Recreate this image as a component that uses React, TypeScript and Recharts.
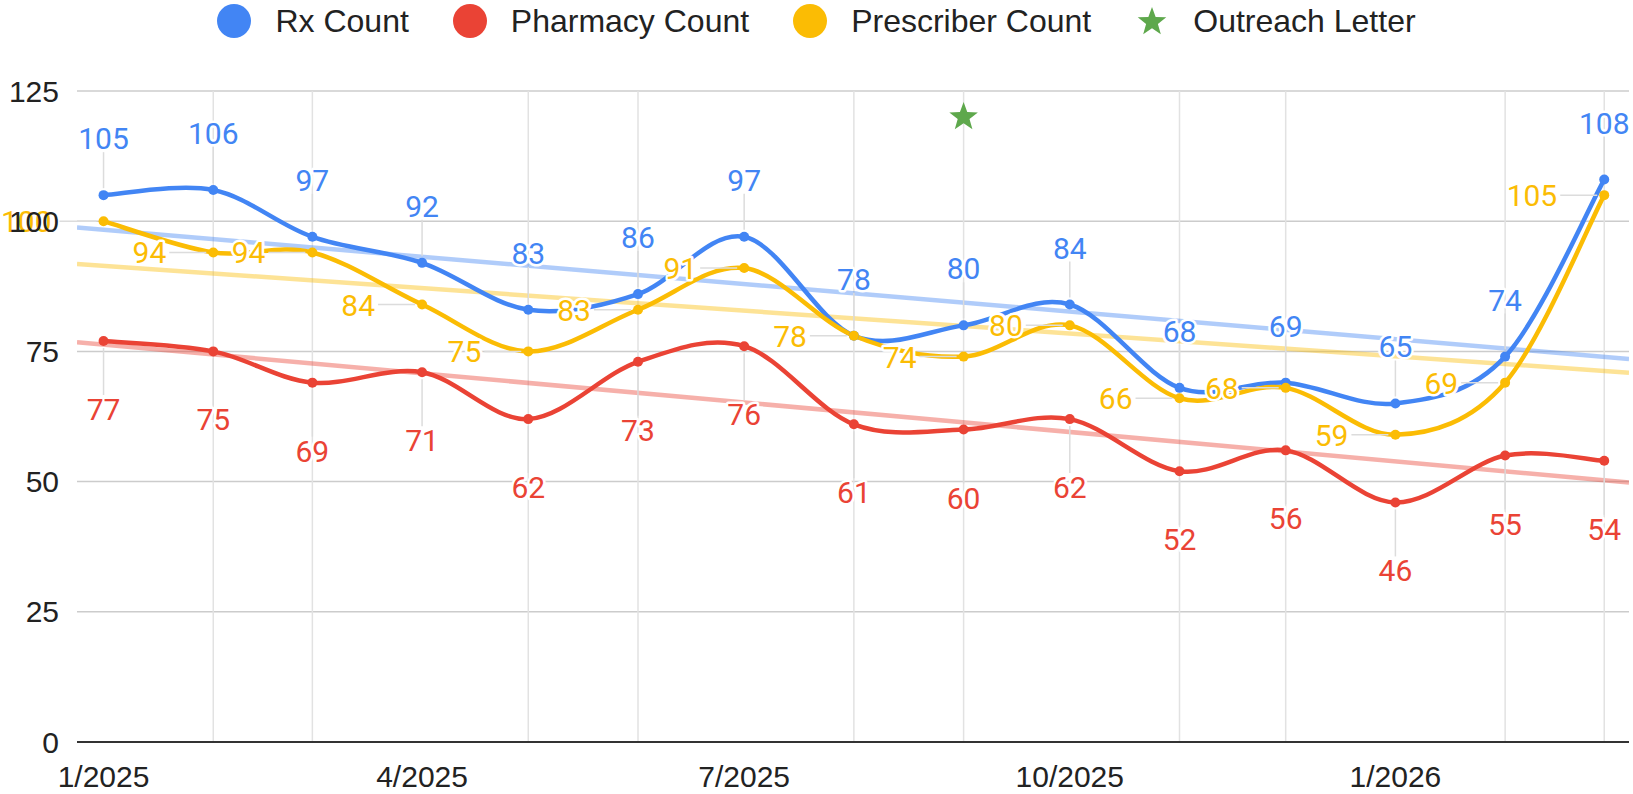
import React from 'react';
import {
  ComposedChart,
  Line,
  Scatter,
  XAxis,
  YAxis,
  CartesianGrid,
  ReferenceLine,
  LabelList
} from 'recharts';

// monthly data points (first of month)
const months = [
  '2025-01-01', '2025-02-01', '2025-03-01', '2025-04-01', '2025-05-01',
  '2025-06-01', '2025-07-01', '2025-08-01', '2025-09-01', '2025-10-01',
  '2025-11-01', '2025-12-01', '2026-01-01', '2026-02-01', '2026-03-01'
];
const rxCount = [105, 106, 97, 92, 83, 86, 97, 78, 80, 84, 68, 69, 65, 74, 108];
const pharmacyCount = [77, 75, 69, 71, 62, 73, 76, 61, 60, 62, 52, 56, 46, 55, 54];
const prescriberCount = [100, 94, 94, 84, 75, 83, 91, 78, 74, 80, 66, 68, 59, 69, 105];

const outreachDates = ['2025-09-01'];
const outreachValues = [120];

const xTickDates = ['2025-01-01', '2025-04-01', '2025-07-01', '2025-10-01', '2026-01-01'];
const xTickLabels = ['1/2025', '4/2025', '7/2025', '10/2025', '1/2026'];
const yTicks = [0, 25, 50, 75, 100, 125];

const BLUE = '#4285f4';
const RED = '#ea4335';
const YELLOW = '#fbbc04';
const GREEN = '#5ea84c';
const LEADER = '#dcdcdc';

const X_MIN = -7.5;
const X_MAX = 431;

const dayOf = (s: string) => (Date.parse(s) - Date.parse(months[0])) / 86400000;

const data = months.map((m, i) => ({
  day: dayOf(m),
  rx: rxCount[i],
  pharmacy: pharmacyCount[i],
  prescriber: prescriberCount[i]
}));

const outreachData = outreachDates.map((d, i) => ({ day: dayOf(d), value: outreachValues[i] }));

const xTicks = xTickDates.map(dayOf);
const gridDays = months.filter((m) => !xTickDates.includes(m)).map(dayOf);

// least squares trend line across the whole axis
const trend = (values: number[]) => {
  const xs = data.map((d) => d.day);
  const n = xs.length;
  const mx = xs.reduce((a, b) => a + b, 0) / n;
  const my = values.reduce((a, b) => a + b, 0) / n;
  let sxy = 0;
  let sxx = 0;
  xs.forEach((x, i) => {
    sxy += (x - mx) * (values[i] - my);
    sxx += (x - mx) * (x - mx);
  });
  const slope = sxy / sxx;
  return [X_MIN, X_MAX].map((x) => ({ day: x, value: my + slope * (x - mx) }));
};

// catmull-rom style smoothing, similar to the sheets "smooth" line
const smoothCurve = (context: any) => {
  let xs: number[] = [];
  let ys: number[] = [];
  return {
    areaStart() {},
    areaEnd() {},
    lineStart() {
      xs = [];
      ys = [];
    },
    point(x: number, y: number) {
      xs.push(+x);
      ys.push(+y);
    },
    lineEnd() {
      const n = xs.length;
      if (!n) return;
      context.moveTo(xs[0], ys[0]);
      for (let i = 0; i < n - 1; i++) {
        const i0 = Math.max(i - 1, 0);
        const i3 = Math.min(i + 2, n - 1);
        context.bezierCurveTo(
          xs[i] + (xs[i + 1] - xs[i0]) / 6,
          ys[i] + (ys[i + 1] - ys[i0]) / 6,
          xs[i + 1] - (xs[i3] - xs[i]) / 6,
          ys[i + 1] - (ys[i3] - ys[i]) / 6,
          xs[i + 1],
          ys[i + 1]
        );
      }
    }
  };
};

const labelText: any = {
  fontFamily: 'Roboto, sans-serif',
  fontSize: 30,
  stroke: '#fff',
  strokeWidth: 5,
  strokeLinejoin: 'round',
  paintOrder: 'stroke'
};

const makeLabel = (place: 'above' | 'below' | 'left', color: string) => (props: any) => {
  const { x, y, value } = props;
  if (x == null || y == null) return null;
  if (place === 'above') {
    return (
      <g>
        <line x1={x} x2={x} y1={y - 43} y2={y - 7} stroke={LEADER} strokeWidth={1.5} />
        <text x={x} y={y - 46} textAnchor="middle" fill={color} {...labelText}>{value}</text>
      </g>
    );
  }
  if (place === 'below') {
    return (
      <g>
        <line x1={x} x2={x} y1={y + 7} y2={y + 54} stroke={LEADER} strokeWidth={1.5} />
        <text x={x} y={y + 79} textAnchor="middle" fill={color} {...labelText}>{value}</text>
      </g>
    );
  }
  // first label sits on top of the axis text in the original, keep it plain
  const edge = x < 140;
  return (
    <g>
      <line x1={x - 44} x2={x - 7} y1={y} y2={y} stroke={LEADER} strokeWidth={1.5} />
      <text
        x={edge ? x - 52 : x - 47}
        y={y + 11}
        textAnchor="end"
        fill={color}
        {...labelText}
        strokeWidth={edge ? 0 : 5}
      >
        {value}
      </text>
    </g>
  );
};

const starPoints = (cx: number, cy: number, outer: number, inner: number) => {
  const pts: string[] = [];
  for (let i = 0; i < 10; i++) {
    const r = i % 2 === 0 ? outer : inner;
    const a = -Math.PI / 2 + (i * Math.PI) / 5;
    pts.push(`${cx + r * Math.cos(a)},${cy + r * Math.sin(a)}`);
  }
  return pts.join(' ');
};

const renderStar = (props: any) => {
  const { cx, cy } = props;
  if (cx == null || cy == null) return null;
  return <polygon points={starPoints(cx, cy, 15, 6.2)} fill={GREEN} />;
};

const legendItems = [
  { name: 'Rx Count', color: BLUE, star: false },
  { name: 'Pharmacy Count', color: RED, star: false },
  { name: 'Prescriber Count', color: YELLOW, star: false },
  { name: 'Outreach Letter', color: GREEN, star: true }
];

const axisFont = { fontSize: 30, fill: '#222', fontFamily: '"Liberation Sans", Arial, sans-serif' };

export default function App() {
  return (
    <div style={{ position: 'absolute', left: 0, top: 0, width: 1633, height: 794, background: '#fff' }}>
      <div
        style={{
          position: 'absolute',
          left: 0,
          top: 0,
          width: 1633,
          height: 42,
          display: 'flex',
          justifyContent: 'center',
          alignItems: 'center',
          fontFamily: '"Liberation Sans", Arial, sans-serif',
          fontSize: 32,
          color: '#222'
        }}
      >
        {legendItems.map((item, i) => (
          <div key={item.name} style={{ display: 'flex', alignItems: 'center', marginLeft: i === 0 ? 0 : 44 }}>
            {item.star ? (
              <svg width={34} height={34} style={{ marginRight: 24 }}>
                <polygon points={starPoints(17, 18, 15, 6.2)} fill={item.color} />
              </svg>
            ) : (
              <div style={{ width: 34, height: 34, borderRadius: 17, background: item.color, marginRight: 24 }} />
            )}
            <span>{item.name}</span>
          </div>
        ))}
      </div>

      <ComposedChart width={1633} height={794} data={data} margin={{ top: 91, right: 4, left: 0, bottom: 0 }}>
        <CartesianGrid vertical={false} stroke="#cccccc" strokeWidth={1.5} />
        {gridDays.map((d) => (
          <ReferenceLine key={d} x={d} stroke="#e2e2e2" strokeWidth={1.5} />
        ))}
        <XAxis
          type="number"
          dataKey="day"
          domain={[X_MIN, X_MAX]}
          allowDataOverflow
          ticks={xTicks}
          interval={0}
          tickFormatter={(d: number) => xTickLabels[xTicks.indexOf(d)] ?? ''}
          tick={axisFont}
          tickLine={false}
          tickSize={0}
          tickMargin={24}
          axisLine={{ stroke: '#333', strokeWidth: 2 }}
          height={52}
        />

        <Line data={trend(pharmacyCount)} dataKey="value" stroke={RED} strokeOpacity={0.42} strokeWidth={4.5} dot={false} activeDot={false} isAnimationActive={false} />
        <Line data={trend(prescriberCount)} dataKey="value" stroke={YELLOW} strokeOpacity={0.42} strokeWidth={4.5} dot={false} activeDot={false} isAnimationActive={false} />
        <Line data={trend(rxCount)} dataKey="value" stroke={BLUE} strokeOpacity={0.42} strokeWidth={4.5} dot={false} activeDot={false} isAnimationActive={false} />

        <Line
          type={smoothCurve as any}
          dataKey="pharmacy"
          stroke={RED}
          strokeWidth={4.5}
          dot={{ r: 5, fill: RED, stroke: 'none' }}
          activeDot={false}
          isAnimationActive={false}
        >
          <LabelList dataKey="pharmacy" content={makeLabel('below', RED)} />
        </Line>
        <Line
          type={smoothCurve as any}
          dataKey="rx"
          stroke={BLUE}
          strokeWidth={4.5}
          dot={{ r: 5, fill: BLUE, stroke: 'none' }}
          activeDot={false}
          isAnimationActive={false}
        >
          <LabelList dataKey="rx" content={makeLabel('above', BLUE)} />
        </Line>
        <Line
          type={smoothCurve as any}
          dataKey="prescriber"
          stroke={YELLOW}
          strokeWidth={4.5}
          dot={{ r: 5, fill: YELLOW, stroke: 'none' }}
          activeDot={false}
          isAnimationActive={false}
        >
          <LabelList dataKey="prescriber" content={makeLabel('left', YELLOW)} />
        </Line>

        <Scatter data={outreachData} dataKey="value" shape={renderStar} isAnimationActive={false} />

        <YAxis
          type="number"
          domain={[0, 125]}
          ticks={yTicks}
          interval={0}
          tick={axisFont}
          tickLine={false}
          tickSize={0}
          tickMargin={18}
          axisLine={false}
          width={77}
        />
      </ComposedChart>
    </div>
  );
}
